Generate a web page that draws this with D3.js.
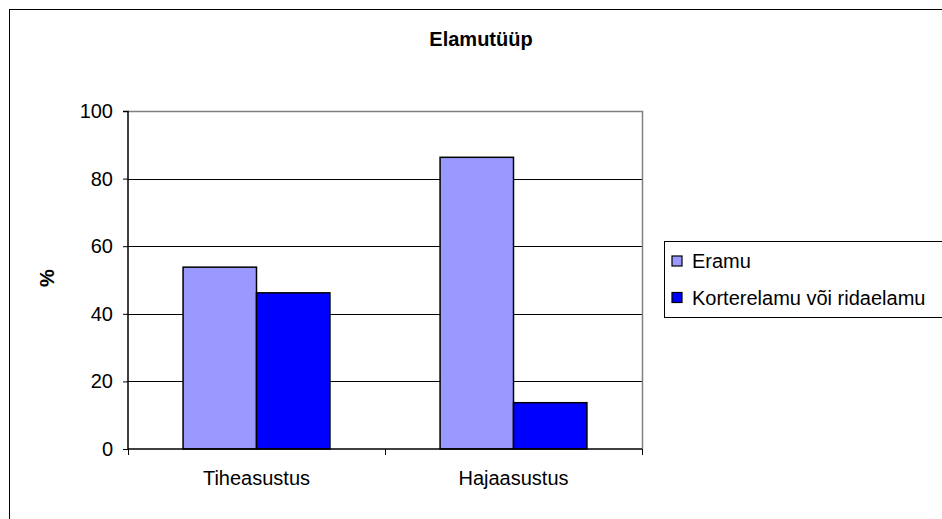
<!DOCTYPE html>
<html>
<head>
<meta charset="utf-8">
<script src="https://cdn.jsdelivr.net/npm/d3@7"></script>
<style>
  body { margin: 0; background: #fff; }
  svg { display: block; font-family: "Liberation Sans", Arial, sans-serif; }
</style>
</head>
<body>
<script>
// data
var categories = ["Tiheasustus", "Hajaasustus"];
var seriesNames = ["Eramu", "Korterelamu või ridaelamu"];
var eramu = [53.8, 86.3];
var korter = [46.2, 13.7];
var yTicks = [0, 20, 40, 60, 80, 100];
var colors = ["#9999ff", "#0000ff"];

var dataset = categories.map(function(c, i) {
    return { cat: c, values: [eramu[i], korter[i]] };
});

var margin = {top: 111, left: 128},
    width = 642 - 128,
    height = 449 - 111;

var svg = d3.select('body')
    .append('svg')
    .attr('width', 942)
    .attr('height', 519);

// outer chart frame (runs off the right and bottom)
svg.append('rect')
    .attr('x', 9.5).attr('y', 9.5)
    .attr('width', 1000).attr('height', 600)
    .attr('fill', 'none')
    .attr('stroke', '#000');

svg.append('text')
    .attr('x', 481).attr('y', 46)
    .attr('text-anchor', 'middle')
    .style('font-size', '20px')
    .style('font-weight', 'bold')
    .text('Elamutüüp');

var x0 = d3.scaleBand()
    .domain(categories)
    .range([0, width]);

var x1 = d3.scaleBand()
    .domain([0, 1])
    .range([0, x0.bandwidth()])
    .paddingOuter(0.75)
    .paddingInner(0);

var y = d3.scaleLinear()
    .domain([0, 100])
    .range([height, 0]);

var main = svg.append('g')
    .attr('transform', 'translate(' + margin.left + ',' + margin.top + ')');

// gridlines
main.append('g')
    .selectAll('line')
    .data(yTicks.filter(function(d) { return d > 0 && d < 100; }))
    .enter().append('line')
    .attr('x1', 0).attr('x2', width)
    .attr('y1', function(d) { return Math.round(y(d)) + 0.5; })
    .attr('y2', function(d) { return Math.round(y(d)) + 0.5; })
    .attr('stroke', '#000');

// plot frame top / right
main.append('path')
    .attr('d', 'M0,0.5H' + (width + 0.5) + 'V' + height)
    .attr('fill', 'none')
    .attr('stroke', '#808080')
    .attr('stroke-width', 1.5);

// bars
var groups = main.selectAll('.grp')
    .data(dataset)
    .enter().append('g')
    .attr('transform', function(d) { return 'translate(' + x0(d.cat) + ',0)'; });

groups.selectAll('rect')
    .data(function(d) { return d.values; })
    .enter().append('rect')
    .attr('x', function(d, i) { return x1(i); })
    .attr('y', function(d) { return y(d); })
    .attr('width', x1.bandwidth())
    .attr('height', function(d) { return height - y(d); })
    .attr('fill', function(d, i) { return colors[i]; })
    .attr('stroke', '#000')
    .attr('stroke-width', 1.5);

// y axis
var yAxis = d3.axisLeft(y)
    .tickValues(yTicks)
    .tickSize(5)
    .tickPadding(10);

main.append('g')
    .attr('class', 'axis')
    .call(yAxis)
    .call(function(g) {
        g.select('.domain').attr('stroke', '#000').attr('stroke-width', 1.5).attr('d', 'M-5,0.5H0V' + height);
        g.selectAll('text').style('font-size', '20px').attr('fill', '#000');
    });

// x axis
var xAxis = d3.axisBottom(x0)
    .tickSize(0)
    .tickPadding(22);

main.append('g')
    .attr('transform', 'translate(0,' + height + ')')
    .call(xAxis)
    .call(function(g) {
        g.select('.domain').attr('stroke', '#000').attr('stroke-width', 1.5).attr('d', 'M0,0H' + width);
        g.selectAll('text').style('font-size', '20px').attr('fill', '#000');
    });

// category boundary ticks
main.append('g')
    .selectAll('line')
    .data([0, 1, 2])
    .enter().append('line')
    .attr('x1', function(d) { return d * x0.step() + 0.5; })
    .attr('x2', function(d) { return d * x0.step() + 0.5; })
    .attr('y1', height)
    .attr('y2', height + 6)
    .attr('stroke', '#000');

svg.append('text')
    .attr('transform', 'translate(54,278) rotate(-90)')
    .attr('text-anchor', 'middle')
    .style('font-size', '20px')
    .style('font-weight', 'bold')
    .text('%');

// legend
var legend = svg.append('g').attr('transform', 'translate(664,241)');
legend.append('rect')
    .attr('x', 0.5).attr('y', 0.5)
    .attr('width', 400).attr('height', 76)
    .attr('fill', '#fff')
    .attr('stroke', '#000');

var item = legend.selectAll('.item')
    .data(seriesNames)
    .enter().append('g')
    .attr('transform', function(d, i) { return 'translate(0,' + (i * 36.5) + ')'; });

item.append('rect')
    .attr('x', 8).attr('y', 15)
    .attr('width', 10).attr('height', 10)
    .attr('fill', function(d, i) { return colors[i]; })
    .attr('stroke', '#000')
    .attr('stroke-width', 1.2);

item.append('text')
    .attr('x', 28).attr('y', 27)
    .style('font-size', '20px')
    .text(function(d) { return d; });
</script>
</body>
</html>
